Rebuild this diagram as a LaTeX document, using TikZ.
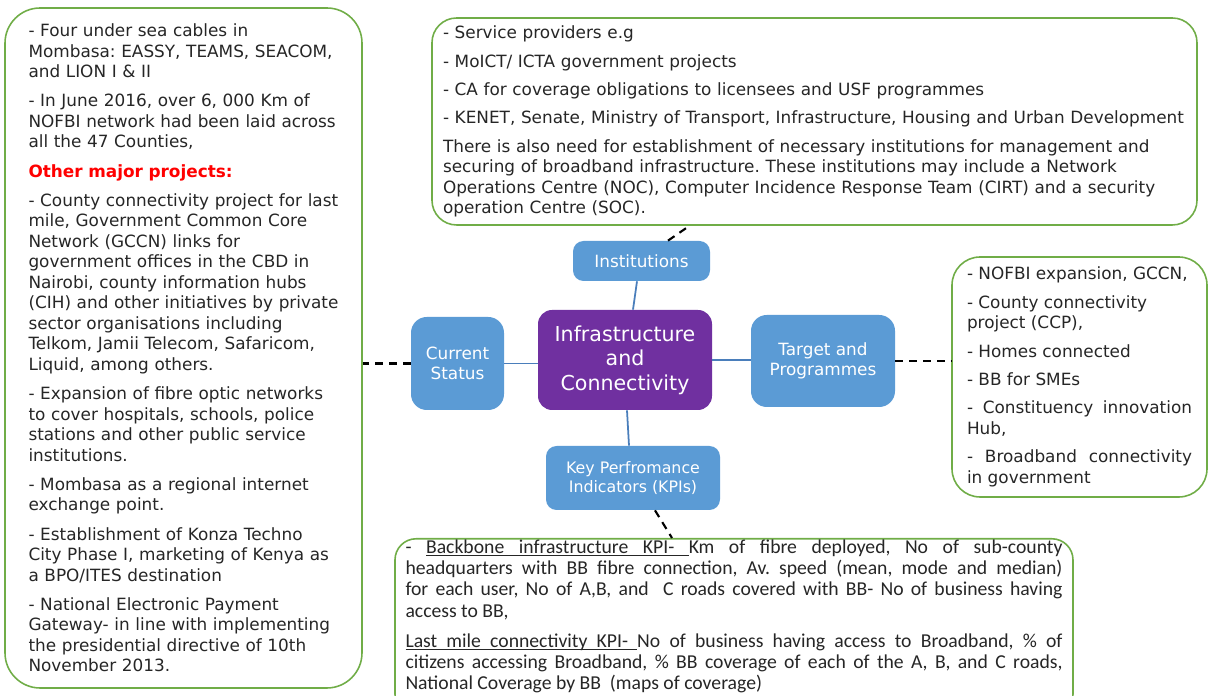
\documentclass[tikz,border=0pt]{standalone}
\usepackage{fontspec}
\setmainfont{DejaVu Sans}
\newfontfamily\kpifont{Carlito}
\definecolor{topicblue}{HTML}{5B9BD5}
\definecolor{corepurple}{HTML}{7030A0}
\definecolor{notegreen}{HTML}{70AD47}
\definecolor{linkblue}{HTML}{4A7EBB}
\definecolor{notetext}{HTML}{262626}
\frenchspacing
% underlined words and stretchable underlined spaces
\newcommand\ulw[1]{\leavevmode\setbox0\hbox{#1}\rlap{\vrule height -1.2pt depth 1.8pt width \wd0}\box0}
\newcommand\ulsp{\leaders\hrule height -1.2pt depth 1.8pt\hskip\fontdimen2\font plus\fontdimen3\font minus\fontdimen4\font}

\begin{document}
\begin{tikzpicture}[
  topic/.style={fill=topicblue, rounded corners=6pt, text=white, align=center, font=\fontsize{9.6}{11.5}\selectfont},
  note/.style={draw=notegreen, line width=0.9pt, fill=white, text=notetext, font=\fontsize{9.6}{11.66}\selectfont},
  link/.style={draw=linkblue, line width=1pt},
  dashlink/.style={black, line width=1.2pt, dash pattern=on 4.5pt off 3.4pt}
]
\useasboundingbox (0,0) rectangle (24.18,13.92);

% centre and topics
\node[topic, fill=corepurple, rounded corners=8pt, minimum width=3.48cm, minimum height=2cm, font=\fontsize{11.7}{14}\selectfont] (core) at (12.5,6.72) {Infrastructure\\and\\Connectivity};
\node[topic, minimum width=2.74cm, minimum height=0.8cm] (inst) at (12.83,8.7) {Institutions};
\node[topic, rounded corners=9pt, minimum width=1.86cm, minimum height=1.86cm] (cur) at (9.15,6.65) {Current\\Status};
\node[topic, rounded corners=9pt, minimum width=2.88cm, minimum height=1.84cm] (tgt) at (16.46,6.7) {Target and\\Programmes};
\node[topic, minimum width=3.48cm, minimum height=1.28cm, font=\fontsize{9}{11}\selectfont] (kpi) at (12.66,4.36) {Key Perfromance\\Indicators (KPIs)};

% notes
\node[note, rounded corners=20pt, minimum width=7.14cm, minimum height=13.6cm, text width=6.2cm, inner xsep=0.47cm, align=left] (statusnote) at (3.67,6.96) {%
- Four under sea cables in\\
Mombasa: EASSY, TEAMS, SEACOM,\\
and LION I \& II\\[5pt]
- In June 2016, over 6, 000 Km of\\
NOFBI network had been laid across\\
all the 47 Counties,\\[5pt]
\textcolor{red}{\textbf{Other major projects:}}\\[5pt]
- County connectivity project for last\\
mile, Government Common Core\\
Network (GCCN) links for\\
government offices in the CBD in\\
Nairobi, county information hubs\\
(CIH) and other initiatives by private\\
sector organisations including\\
Telkom, Jamii Telecom, Safaricom,\\
Liquid, among others.\\[5pt]
- Expansion of fibre optic networks\\
to cover hospitals, schools, police\\
stations and other public service\\
institutions.\\[5pt]
- Mombasa as a regional internet\\
exchange point.\\[5pt]
- Establishment of Konza Techno\\
City Phase I, marketing of Kenya as\\
a BPO/ITES destination\\[5pt]
- National Electronic Payment\\
Gateway- in line with implementing\\
the presidential directive of 10th\\
November 2013.};

\node[note, rounded corners=14pt, minimum width=15.3cm, minimum height=4.14cm, text width=14.86cm, inner xsep=0.22cm, align=left] (instnote) at (16.29,11.49) {%
- Service providers e.g\\[4.5pt]
- MoICT/ ICTA government projects\\[4.5pt]
- CA for coverage obligations to licensees and USF programmes\\[4.5pt]
- KENET, Senate, Ministry of Transport, Infrastructure, Housing and Urban Development\\[4.5pt]
There is also need for establishment of necessary institutions for management and\\
securing of broadband infrastructure. These institutions may include a Network\\
Operations Centre (NOC), Computer Incidence Response Team (CIRT) and a security\\
operation Centre (SOC).};

\node[note, rounded corners=16pt, minimum width=5.1cm, minimum height=4.8cm, text width=4.5cm, inner xsep=0.3cm, align=justify] (prognote) at (21.59,6.38) {%
- NOFBI expansion, GCCN,\par\vspace{4.5pt}
- County connectivity\newline project (CCP),\par\vspace{4.5pt}
- Homes connected\par\vspace{4.5pt}
- BB for SMEs\par\vspace{4.5pt}
- Constituency innovation\linebreak Hub,\par\vspace{4.5pt}
- Broadband connectivity\linebreak in government};

\node[note, anchor=north, rounded corners=12pt, minimum width=13.56cm, text width=13.14cm, inner xsep=0.21cm, inner ysep=0.5pt, align=justify, font=\kpifont\fontsize{11.2}{12.1}\selectfont] (kpinote) at (14.68,3.16) {%
- \ulw{Backbone}\ulsp\ulw{infrastructure}\ulsp\ulw{KPI-}\ulsp Km of fibre deployed, No of sub-county\linebreak
headquarters with BB fibre connection, Av. speed (mean, mode and median)\linebreak
for each user, No of A,B, and\ \ C roads covered with BB- No of business having\linebreak
access to BB,\par\vspace{5pt}
\ulw{Last}\ulsp\ulw{mile}\ulsp\ulw{connectivity}\ulsp\ulw{KPI-}\ulsp No of business having access to Broadband, \% of\linebreak
citizens accessing Broadband, \% BB coverage of each of the A, B, and C roads,\linebreak
National Coverage by BB\ \ (maps of coverage)\rule[-14pt]{0pt}{1pt}};

% links
\draw[link] ([xshift=-0.9mm]inst.south) -- ([xshift=1.6mm]core.north);
\draw[link] (cur.east) -- (cur.east -| core.west);
\draw[link] (core.east) -- (core.east -| tgt.west);
\draw[link] ([xshift=0.4mm]core.south) -- ([xshift=-0.8mm]kpi.north);

\draw[dashlink] ([xshift=5.3mm]inst.north) -- ([xshift=-25mm]instnote.south);
\draw[dashlink] (cur.west) -- (cur.west -| statusnote.east);
\draw[dashlink] (tgt.east) -- (tgt.east -| prognote.west);
\draw[dashlink] ([xshift=4.4mm]kpi.south) -- ([xshift=-12.4mm]kpinote.north);

\end{tikzpicture}
\end{document}
